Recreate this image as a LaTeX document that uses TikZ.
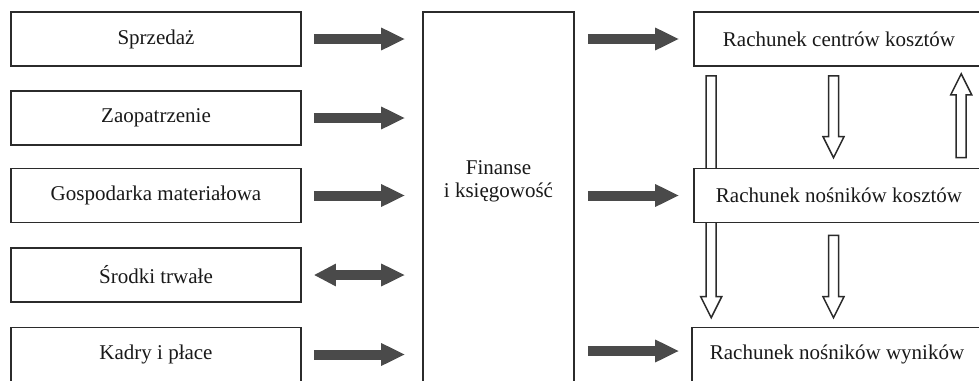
\documentclass[tikz,border=0pt]{standalone}
\usepackage{fontspec}
\setmainfont{Liberation Serif}
\usetikzlibrary{arrows.meta,calc}
\pgfdeclarelayer{bg}
\pgfsetlayers{bg,main}
\definecolor{edge}{HTML}{2B2B2B}
\definecolor{arrowgray}{HTML}{4A4A4A}
\tikzset{
  box/.style={draw=edge, line width=1.6pt, fill=white, minimum width=290pt,
    minimum height=54pt, inner sep=0pt, font=\fontsize{21}{24}\selectfont, text=black!90},
  finbox/.style={draw=edge, line width=1.6pt, fill=white, minimum width=151pt,
    minimum height=408pt, inner sep=0pt},
  lbl/.style={font=\fontsize{21}{23}\selectfont, text=black!90, align=center, inner sep=0pt},
  flow/.style={draw=arrowgray, line width=10pt, -{Triangle[length=24pt,width=21pt]}},
  both/.style={draw=arrowgray, line width=10pt, {Triangle[length=22pt,width=21pt]}-{Triangle[length=24pt,width=21pt]}},
  hollow/.style={draw=edge, line width=1.5pt, fill=white, line join=miter}
}
\newcommand\hollowarrow[2]{%
  \path ($(#2)!21pt!(#1)$) coordinate (hb);
  \draw[hollow] ($(#1)!5pt!90:(#2)$) -- ($(hb)!5pt!90:(#2)$) -- ($(hb)!10.5pt!90:(#2)$)
    -- (#2) -- ($(hb)!10.5pt!-90:(#2)$) -- ($(hb)!5pt!-90:(#2)$) -- ($(#1)!5pt!-90:(#2)$) -- cycle;}
\begin{document}
\begin{tikzpicture}[x=1pt,y=-1pt]
\useasboundingbox (0,0) rectangle (979,380);
\clip (0,0) rectangle (979,380);
% left boxes
\node[box] (l1) at (156,39) {Sprzedaż};
\node[box] (l2) at (156,118) {Zaopatrzenie};
\node[box] (l3) at (156,195.5) {Gospodarka materiałowa};
\node[box] (l4) at (156,275) {Środki trwałe};
\node[box] (l5) at (156,354.5) {Kadry i płace};
% central box
\node[finbox] (fin) at (498.5,216) {};
\node[lbl] (fintxt) at (498.5,181) {Finanse\\i księgowość};
% right boxes
\node[box] (rA) at (839,39) {Rachunek centrów kosztów};
\node[box] (rB) at (839,195.5) {Rachunek nośników kosztów};
\node[box] (rC) at (837,354.5) {Rachunek nośników wyników};
% gray arrows left
\foreach \n in {l1,l2,l3,l5}{
  \draw[flow, shorten <=12pt, shorten >=17pt] (\n.east) -- (\n.east -| fin.west);
}
\draw[both, shorten <=12pt, shorten >=17pt] (l4.east) -- (l4.east -| fin.west);
% gray arrows right
\draw[flow, shorten <=13pt, shorten >=14pt] (rA.west -| fin.east) -- (rA.west);
\draw[flow, shorten <=13pt, shorten >=14pt] (rB.west -| fin.east) -- (rB.west);
\coordinate (rCin) at ($(rC.west)+(0,-3.5)$);
\draw[flow, shorten <=13pt, shorten >=12pt] (rCin -| fin.east) -- (rCin);
% hollow arrows
\coordinate (ls) at ($(rA.south west)+(18,9)$);
\coordinate (lt) at ($(rC.north west)+(20,-9)$);
\begin{pgfonlayer}{bg}
\hollowarrow{ls}{lt}
\end{pgfonlayer}
\coordinate (m1s) at ($(rA.south)+(-5.5,9)$);
\coordinate (m1t) at ($(rB.north)+(-5.5,-10)$);
\hollowarrow{m1s}{m1t}
\coordinate (us) at ($(rB.north west)+(268,-10)$);
\coordinate (ut) at ($(rA.south west)+(268,7)$);
\hollowarrow{us}{ut}
\coordinate (m2s) at ($(rB.south)+(-5.5,12)$);
\coordinate (m2t) at ($(rC.north)+(-3.5,-9)$);
\hollowarrow{m2s}{m2t}
\end{tikzpicture}
\end{document}
